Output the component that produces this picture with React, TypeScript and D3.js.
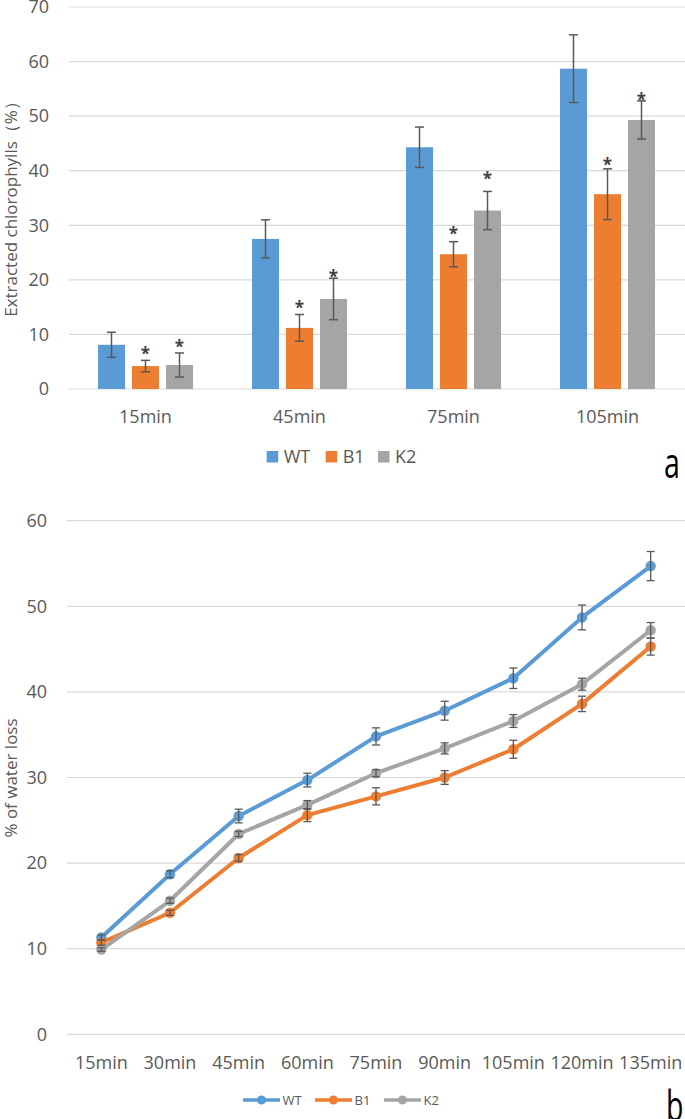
import React from "react";
import * as d3 from "d3";

// ---------- Panel a data ----------
const barCategories = ["15min", "45min", "75min", "105min"];
const barSeries = ["WT", "B1", "K2"];
const barWT = [8.1, 27.5, 44.3, 58.7];
const barB1 = [4.2, 11.2, 24.7, 35.7];
const barK2 = [4.4, 16.5, 32.7, 49.3];
const errWT = [2.3, 3.5, 3.7, 6.2];
const errB1 = [1.05, 2.45, 2.3, 4.65];
const errK2 = [2.2, 3.8, 3.5, 3.5];
const starB1 = [7.1, 15.6, 29.1, 41.8];
const starK2 = [8.4, 21.3, 39.2, 53.6];
const barTicks = [0, 10, 20, 30, 40, 50, 60, 70];

// ---------- Panel b data ----------
const lineCategories = ["15min", "30min", "45min", "60min", "75min", "90min", "105min", "120min", "135min"];
const lineWT = [11.3, 18.7, 25.5, 29.7, 34.8, 37.8, 41.6, 48.7, 54.7];
const lineB1 = [10.7, 14.2, 20.6, 25.6, 27.8, 30.0, 33.3, 38.6, 45.3];
const lineK2 = [9.9, 15.6, 23.4, 26.8, 30.5, 33.4, 36.6, 40.9, 47.2];
const lineErrWT = [0.3, 0.4, 0.8, 0.8, 1.0, 1.1, 1.2, 1.45, 1.7];
const lineErrB1 = [0.3, 0.3, 0.4, 0.75, 1.0, 0.8, 1.05, 0.9, 1.0];
const lineErrK2 = [0.2, 0.3, 0.3, 0.5, 0.4, 0.65, 0.75, 0.7, 0.9];
const lineTicks = [0, 10, 20, 30, 40, 50, 60];

const colors = ["#5B9BD5", "#ED7D31", "#A5A5A5"];
const FONT = "'Open Sans', 'Noto Sans', sans-serif";
const TXT = "#595959";
const GRID = "#D9D9D9";
const ERR = "#595959";

export default function App() {
  // Panel a scales
  const ya = d3.scaleLinear().domain([0, 70]).range([389, 7]);
  const x0 = d3.scaleBand().domain(barCategories).range([68.5, 684.5]);
  const x1 = d3.scaleBand().domain(barSeries).range([29.5, 124.5]).paddingInner(0.206).paddingOuter(0);
  const barVals = [barWT, barB1, barK2];
  const barErrs = [errWT, errB1, errK2];
  const stars = [null, starB1, starK2];

  // Panel b scales
  const yb = d3.scaleLinear().domain([0, 60]).range([1034.3, 520.7]);
  const xb = d3.scalePoint().domain(lineCategories).range([67, 685]).padding(0.5);
  const lineVals = [lineWT, lineB1, lineK2];
  const lineErrs = [lineErrWT, lineErrB1, lineErrK2];
  const lineGen = d3
    .line<number>()
    .x((_, i) => xb(lineCategories[i]) as number)
    .y((d) => yb(d));

  const legendTopX = [266.7, 325.7, 378];
  const legendBotX = [243, 315, 384];

  return (
    <svg
      width={685}
      height={1119}
      style={{ position: "absolute", left: 0, top: 0, background: "#fff" }}
      fontFamily={FONT}
    >
      {/* ===== Panel a ===== */}
      {barTicks.map((t) => (
        <g key={"ga" + t}>
          <line x1={69} x2={685} y1={ya(t)} y2={ya(t)} stroke={GRID} strokeWidth={1.2} />
          <text x={49} y={ya(t)} dy="0.35em" textAnchor="end" fontSize={18} fill={TXT}>
            {t}
          </text>
        </g>
      ))}
      <text
        transform={`translate(11,205) rotate(-90)`}
        textAnchor="middle"
        dy="0.35em"
        fontSize={17}
        fill={TXT}
      >
        Extracted chlorophylls（%）
      </text>
      {barCategories.map((c, ci) => (
        <g key={"bc" + c} transform={`translate(${x0(c)},0)`}>
          {barSeries.map((s, si) => {
            const v = barVals[si][ci];
            const e = barErrs[si][ci];
            const bx = x1(s) as number;
            const bw = x1.bandwidth();
            const cx = bx + bw / 2;
            const st = stars[si];
            return (
              <g key={s}>
                <rect x={bx} y={ya(v)} width={bw} height={ya(0) - ya(v)} fill={colors[si]} />
                <line x1={cx} x2={cx} y1={ya(v + e)} y2={ya(v - e)} stroke={ERR} strokeWidth={1.5} />
                <line x1={cx - 4.5} x2={cx + 4.5} y1={ya(v + e)} y2={ya(v + e)} stroke={ERR} strokeWidth={1.5} />
                <line x1={cx - 4.5} x2={cx + 4.5} y1={ya(v - e)} y2={ya(v - e)} stroke={ERR} strokeWidth={1.5} />
                {st && (
                  <text x={cx} y={ya(st[ci]) + 10} textAnchor="middle" fontSize={17} fontWeight="bold" fill="#404040">
                    *
                  </text>
                )}
              </g>
            );
          })}
          <text x={x0.bandwidth() / 2} y={423} textAnchor="middle" fontSize={18} fill={TXT}>
            {c}
          </text>
        </g>
      ))}
      {barSeries.map((s, si) => (
        <g key={"la" + s}>
          <rect x={legendTopX[si]} y={451} width={11.5} height={11.5} fill={colors[si]} />
          <text x={legendTopX[si] + 17} y={463} fontSize={18} fill={TXT}>
            {s}
          </text>
        </g>
      ))}
      <text transform="translate(664,478) scale(0.68,1)" fontSize={42} fill="#000">
        a
      </text>

      {/* ===== Panel b ===== */}
      {lineTicks.map((t) => (
        <g key={"gb" + t}>
          <line x1={67} x2={685} y1={yb(t)} y2={yb(t)} stroke={GRID} strokeWidth={1.2} />
          <text x={47} y={yb(t)} dy="0.35em" textAnchor="end" fontSize={18} fill={TXT}>
            {t}
          </text>
        </g>
      ))}
      <text
        transform={`translate(11,778) rotate(-90)`}
        textAnchor="middle"
        dy="0.35em"
        fontSize={17}
        fill={TXT}
      >
        % of water loss
      </text>
      {lineCategories.map((c) => (
        <text key={"xl" + c} x={xb(c)} y={1069} textAnchor="middle" fontSize={18} fill={TXT}>
          {c}
        </text>
      ))}
      {lineVals.map((vals, si) => (
        <g key={"ln" + si}>
          <path d={lineGen(vals) || ""} fill="none" stroke={colors[si]} strokeWidth={4} strokeLinejoin="round" />
          {vals.map((v, i) => (
            <circle key={i} cx={xb(lineCategories[i])} cy={yb(v)} r={5.2} fill={colors[si]} />
          ))}
        </g>
      ))}
      {lineVals.map((vals, si) => (
        <g key={"le" + si}>
          {vals.map((v, i) => {
            const cx = xb(lineCategories[i]) as number;
            const e = lineErrs[si][i];
            return (
              <g key={i}>
                <line x1={cx} x2={cx} y1={yb(v + e)} y2={yb(v - e)} stroke={ERR} strokeWidth={1.3} />
                <line x1={cx - 4} x2={cx + 4} y1={yb(v + e)} y2={yb(v + e)} stroke={ERR} strokeWidth={1.3} />
                <line x1={cx - 4} x2={cx + 4} y1={yb(v - e)} y2={yb(v - e)} stroke={ERR} strokeWidth={1.3} />
              </g>
            );
          })}
        </g>
      ))}
      {barSeries.map((s, si) => (
        <g key={"lb" + s}>
          <line x1={legendBotX[si]} x2={legendBotX[si] + 37} y1={1100} y2={1100} stroke={colors[si]} strokeWidth={3.5} />
          <circle cx={legendBotX[si] + 18.5} cy={1100} r={4.5} fill={colors[si]} />
          <text x={legendBotX[si] + 39.5} y={1104.5} fontSize={13} fill={TXT}>
            {s}
          </text>
        </g>
      ))}
      <text transform="translate(666,1121) scale(0.68,1)" fontSize={42} fill="#000">
        b
      </text>
    </svg>
  );
}
